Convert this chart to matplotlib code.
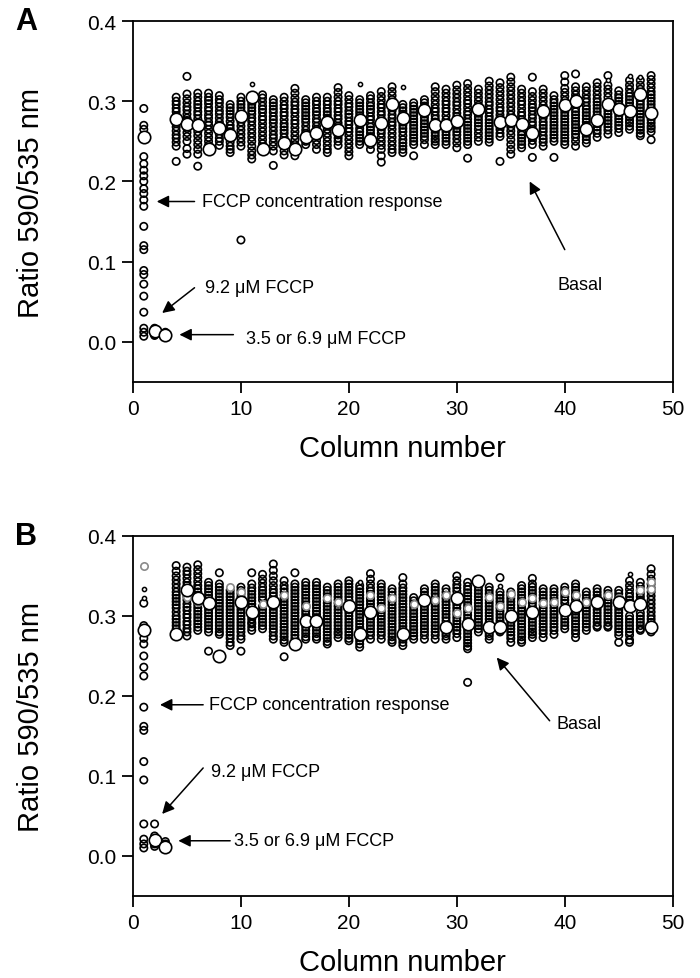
import matplotlib
matplotlib.use("Agg")
import matplotlib.pyplot as plt
import numpy as np

plt.rcParams['font.family'] = ['Liberation Sans', 'DejaVu Sans']

# ---------------- Panel A data (ratio x1000, per column 1..48) ----------------
A_vals = [
    [291,270,265,231,222,214,207,200,191,185,177,169,144,120,115,89,84,72,57,37,17,12,7],  # 1
    [17,13,9,8],                                              # 2
    [12,10,8],                                                # 3
    [305,300,296,291,287,282,276,272,268,263,258,254,249,244,225],
    [331,309,303,298,293,289,284,279,276,270,266,261,256,250,241,234],
    [310,305,300,296,292,287,283,278,273,268,262,257,251,246,240,234,219],
    [310,305,301,297,292,288,283,279,274,270,265,260,255,250,245],
    [307,302,298,293,288,284,279,274,270,264,259,254,250,245],
    [296,292,288,284,280,275,270,266,262,254,249,244,240,236],
    [305,300,296,292,288,282,278,274,269,264,259,254,249,244,127],
    [300,296,292,288,284,279,275,270,265,260,255,250,244,238,233,228],
    [308,304,299,294,290,286,281,277,272,267,262,257,252,247,243],
    [302,298,294,290,286,281,277,273,268,263,258,254,249,244,238,220],
    [305,300,295,291,286,282,277,272,268,264,260,255,244,238,233],
    [316,310,304,299,295,290,286,281,276,272,267,262,257,252,246,232],
    [302,298,294,290,286,282,278,274,269,264,260,250,246],
    [305,300,296,291,287,283,278,274,269,265,256,251,246,240],
    [305,300,296,291,287,283,279,269,265,260,255,250,245,240,236],
    [317,311,305,300,296,291,287,282,278,273,269,258,254,250,245],
    [307,302,297,293,288,284,280,275,271,266,262,257,252,247,242,237,232],
    [302,298,294,290,286,282,271,266,262,258,254,250,246],
    [307,303,298,294,290,286,281,277,272,268,264,260,256,246,240],
    [312,306,301,296,292,287,283,278,268,264,260,255,250,245,240,232,224],
    [318,312,307,302,292,288,283,279,274,270,265,260,255,250,245,240,236],
    [296,292,288,284,274,270,266,262,257,252,248,244,240,236],
    [298,294,290,286,282,278,274,270,266,262,258,254,250,246,232],
    [302,298,294,289,284,280,276,272,268,264,260,256,252,246],
    [318,312,306,301,296,291,287,282,278,274,265,261,257,253,250,246],
    [315,310,305,300,296,291,287,282,277,266,262,258,254,250,246],
    [320,314,309,304,299,295,290,285,281,270,266,262,258,253,248,242],
    [322,316,311,306,301,297,292,287,283,278,274,270,266,262,258,254,250,246,229],
    [315,310,305,300,295,290,285,281,277,273,269,265,260,255,250],
    [325,319,314,309,304,299,295,290,286,281,277,273,269,265,261,257,253,249],
    [323,317,312,307,302,297,292,288,283,279,269,265,260,256,225],
    [330,324,318,313,308,303,298,293,288,283,272,268,263,258,252,246,240,234],
    [315,310,305,300,296,291,286,282,277,267,262,258,254,250,246,242],
    [330,312,306,301,296,292,288,283,279,274,270,265,255,251,246,230],
    [315,310,305,300,295,283,279,274,270,266,262,257,253,249,244],
    [307,302,298,294,290,286,282,278,274,270,266,262,258,254,250,230],
    [332,324,316,311,306,301,290,286,282,278,274,270,266,262,258,254,250,246],
    [334,318,313,308,304,296,291,287,283,279,275,271,267,263,259,255,250,244],
    [318,313,308,303,299,294,290,286,282,278,274,270,260,256,252,248],
    [323,318,313,308,303,299,295,291,287,283,272,268,264,260,255],
    [332,320,315,310,305,292,288,284,280,276,272,268,264,259],
    [313,308,304,300,296,286,282,278,274,270,266,261],
    [326,320,315,310,306,302,298,294,284,280,276,273,269,265],
    [326,320,315,310,305,300,296,292,288,284,280,276,272,268,264,260,257],
    [332,327,322,317,312,308,304,300,296,292,281,277,273,269,266,262,252],
]
A_large_cols = [1,2,3,4,5,6,7,8,9,10,11,12,14,15,16,17,18,19,21,22,23,24,25,27,28,29,30,
                32,34,35,36,37,38,40,41,42,43,44,45,46,47,48]
A_large_vals = [255,13,9,278,272,270,240,267,258,282,305,240,248,240,255,261,274,264,276,252,273,297,279,
                289,270,271,275,290,274,277,272,260,288,295,300,265,277,297,290,288,309,285]
A_tiny_cols = [11,21,25,44,46,47]
A_tiny_vals = [322,322,318,326,331,330]

# ---------------- Panel B data ----------------
B_vals = [
    [316,288,272,265,250,236,225,186,162,157,118,95,40,21,15,10],  # 1
    [40,25,15,12],                                                  # 2
    [18,15],                                                        # 3
    [363,356,350,345,340,335,330,326,322,318,314,310,305,300,296,292,288,284],
    [361,356,352,347,342,338,328,324,320,315,311,307,302,298,293,289,284,280,275],
    [364,358,353,348,343,338,334,330,326,318,314,310,306,302,298,294,290,286,282],
    [342,338,334,330,326,322,312,308,304,300,296,292,288,284,280,256],
    [354,340,336,332,328,324,320,316,312,308,304,300,296,292,288,284,280,277],
    [332,328,324,320,316,312,308,304,300,296,292,288,284,280,276,272,267,263],
    [336,332,328,324,320,312,308,304,300,296,292,288,284,280,275,271,256],
    [354,340,335,331,327,323,319,315,311,300,296,292,290,286,282],
    [352,346,341,336,332,328,324,320,312,308,304,300,296,292,288,284],
    [365,357,350,344,338,333,329,325,312,308,304,300,296,292,288,284,280,275,271],
    [344,338,334,330,326,322,318,314,310,306,302,298,294,290,286,282,278,274,270,267,249],
    [354,340,336,332,328,324,320,316,312,308,304,300,296,292,288,284,280,276,272],
    [342,338,334,330,326,322,318,314,310,306,302,298,290,286,282,278,274,271],
    [342,338,334,330,326,322,318,314,310,306,302,298,290,286,282,278,274,271],
    [336,332,328,324,320,316,312,308,304,300,296,292,288,284,280,276,272,268,265],
    [340,336,332,328,324,320,316,312,308,304,300,296,292,288,284,280,277,273],
    [344,340,336,332,328,324,320,308,304,300,296,292,288,284,280,276,272,269],
    [338,334,330,326,322,318,314,310,306,302,298,294,290,286,282,273,269,265,261],
    [353,346,340,335,331,327,323,319,315,311,300,296,292,288,284,280,276,271],
    [340,336,332,328,324,320,316,312,308,304,300,296,292,288,284,280,276,271],
    [334,330,326,322,318,314,310,306,302,298,294,290,286,282,278,274,270,267],
    [348,340,335,331,327,323,319,315,311,307,303,299,295,291,287,283,279,275,271,267,263],
    [323,319,315,311,307,303,299,295,291,287,283,279,275,271],
    [334,330,326,316,312,308,304,300,296,292,288,284,280,276,271],
    [340,336,332,328,324,320,316,312,308,304,300,296,292,288,284,280,276,271],
    [334,330,326,322,318,314,310,306,302,298,294,282,278,275,271],
    [350,344,339,335,331,318,314,310,306,302,298,294,290,286,282,278,273],
    [342,337,333,329,325,321,317,313,309,305,301,297,293,286,282,278,274,270,266,262,259,217],
    [336,332,328,324,320,316,312,308,304,300,296,292,288,284,280],
    [336,332,328,324,320,316,312,308,304,300,296,292,282,278,275,271],
    [348,330,326,322,318,314,310,306,302,298,294,290,282,280],
    [330,326,322,318,314,310,306,296,292,288,284,280,276,272,267],
    [338,334,330,326,322,318,314,310,306,302,298,294,290,286,282,278,274,270,267],
    [347,340,336,332,328,324,320,316,312,300,296,292,288,284,280,277,273],
    [334,330,326,322,318,314,310,306,302,298,294,290,286,282,278,273],
    [334,330,326,322,318,314,310,306,302,298,294,290,286,282,277],
    [336,332,328,324,320,316,300,296,292,288,284],
    [340,336,332,328,324,320,306,302,298,294,290,286,282,278,273],
    [330,326,322,318,314,310,306,302,298,294,290,286,282],
    [334,330,326,322,312,308,304,300,296,292,288,286],
    [332,328,324,320,316,312,308,304,300,296,292,288,286],
    [332,328,324,320,312,308,304,300,296,292,288,284,280,276,267],
    [344,338,333,328,324,320,316,312,300,296,292,288,284,280,276,270,267],
    [342,337,332,328,324,320,316,304,300,296,292,288,284,282],
    [359,352,346,340,335,330,325,320,315,310,305,300,296,292,288,284,280],
]
B_large_cols = [1,2,3,4,5,6,7,8,10,11,13,15,16,17,20,21,22,25,27,29,30,31,32,33,34,35,37,
                40,41,43,45,46,47,48]
B_large_vals = [282,20,11,277,332,322,316,250,317,305,317,265,294,294,313,277,305,277,320,286,323,290,
                344,286,286,300,305,307,312,317,317,313,315,286]
B_tiny_cols = [1,1,21,32,34,46]
B_tiny_vals = [334,323,342,340,338,353]
B_gray_cols = [1,5,6,9,10,12,13,14,16,18,19,20,22,23,24,26,27,28,29,30,31,33,34,35,36,
               37,38,39,40,41,42,43,44,45,46,47,48,48]
B_gray_vals = [363,324,318,336,330,315,320,326,312,322,318,316,326,310,322,315,318,320,326,
               304,310,324,312,328,318,322,316,318,330,326,318,320,326,322,310,332,342,334]

cols = np.arange(1, 49)


def flatten(vals):
    xs = np.concatenate([[c] * len(v) for c, v in zip(cols, vals)])
    ys = np.concatenate([np.array(v, dtype=float) for v in vals]) / 1000.0
    return xs, ys


fig = plt.figure(figsize=(7, 9.79), dpi=100)
axA = fig.add_axes([0.19, 0.6088, 0.771, 0.3687])
axB = fig.add_axes([0.19, 0.0838, 0.771, 0.3677])

panels = [
    (axA, A_vals, A_large_cols, A_large_vals, A_tiny_cols, A_tiny_vals, None, None, 'A'),
    (axB, B_vals, B_large_cols, B_large_vals, B_tiny_cols, B_tiny_vals, B_gray_cols, B_gray_vals, 'B'),
]

for ax, vals, lc, lv, tc, tv, gc, gv, letter in panels:
    xs, ys = flatten(vals)
    ax.scatter(xs, ys, s=28, facecolors='none', edgecolors='black', linewidths=1.2, zorder=2)
    if gc is not None:
        ax.scatter(gc, np.array(gv) / 1000.0, s=28, facecolors='white', edgecolors='#8a8a8a',
                   linewidths=1.2, zorder=3)
    ax.scatter(tc, np.array(tv) / 1000.0, s=9, facecolors='white', edgecolors='black',
               linewidths=1.1, zorder=3)
    ax.scatter(lc, np.array(lv) / 1000.0, s=80, facecolors='white', edgecolors='black',
               linewidths=1.2, zorder=4)
    ax.set_xlim(0, 50)
    ax.set_ylim(-0.05, 0.4)
    ax.set_xticks([0, 10, 20, 30, 40, 50])
    ax.set_yticks([0.0, 0.1, 0.2, 0.3, 0.4])
    ax.set_yticklabels(['0.0', '0.1', '0.2', '0.3', '0.4'])
    ax.tick_params(direction='out', length=8, width=1.3, labelsize=15, pad=4,
                   top=False, right=False)
    for sp in ax.spines.values():
        sp.set_linewidth(1.3)
    ax.set_ylabel('Ratio 590/535 nm', fontsize=21, labelpad=30)
    ax.set_xlabel('Column number', fontsize=21, labelpad=12)

axA.text(-0.218, 1.0, 'A', transform=axA.transAxes, fontsize=22, fontweight='bold',
         ha='left', va='center')
axB.text(-0.218, 1.0, 'B', transform=axB.transAxes, fontsize=22, fontweight='bold',
         ha='left', va='center')

arw = dict(arrowstyle='-|>', color='black', lw=1.1, mutation_scale=18, shrinkA=0, shrinkB=0)
fs = 13

# Panel A annotations
axA.annotate('', xy=(2.2, 0.175), xytext=(5.7, 0.175), arrowprops=arw)
axA.text(6.4, 0.175, 'FCCP concentration response', fontsize=fs, va='center', ha='left')
axA.annotate('', xy=(2.7, 0.036), xytext=(5.7, 0.0675), arrowprops=arw)
axA.text(6.7, 0.0675, '9.2 \u03bcM FCCP', fontsize=fs, va='center', ha='left')
axA.annotate('', xy=(4.3, 0.009), xytext=(9.3, 0.009), arrowprops=arw)
axA.text(10.5, 0.004, '3.5 or 6.9 \u03bcM FCCP', fontsize=fs, va='center', ha='left')
axA.annotate('', xy=(36.75, 0.2), xytext=(40.0, 0.115), arrowprops=arw)
axA.text(39.3, 0.071, 'Basal', fontsize=fs, va='center', ha='left')

# Panel B annotations
axB.annotate('', xy=(2.5, 0.189), xytext=(6.5, 0.189), arrowprops=arw)
axB.text(7.0, 0.189, 'FCCP concentration response', fontsize=fs, va='center', ha='left')
axB.annotate('', xy=(2.7, 0.0525), xytext=(6.5, 0.11), arrowprops=arw)
axB.text(7.2, 0.105, '9.2 \u03bcM FCCP', fontsize=fs, va='center', ha='left')
axB.annotate('', xy=(4.2, 0.019), xytext=(9.0, 0.019), arrowprops=arw)
axB.text(9.4, 0.019, '3.5 or 6.9 \u03bcM FCCP', fontsize=fs, va='center', ha='left')
axB.annotate('', xy=(33.7, 0.248), xytext=(38.6, 0.169), arrowprops=arw)
axB.text(39.2, 0.165, 'Basal', fontsize=fs, va='center', ha='left')

fig.savefig('out.png', dpi=100)
